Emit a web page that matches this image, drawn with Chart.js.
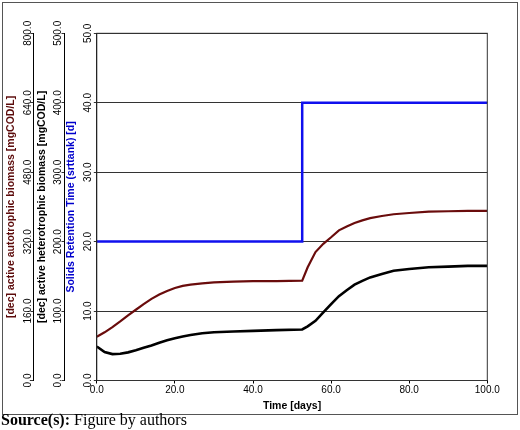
<!DOCTYPE html>
<html>
<head>
<meta charset="utf-8">
<script src="https://cdn.jsdelivr.net/npm/chart.js@4"></script>
<style>
    body { margin: 0; background: #fff; }
    #frame { position: absolute; left: 2px; top: 2px; width: 514px; height: 411px; border: 1px solid #555; }
    #wrap { position: absolute; left: 0; top: 0; width: 520px; height: 420px; }
    #source { position: absolute; left: 1px; top: 412px; font: 16px/16px "Liberation Serif", serif; color: #000; white-space: nowrap; }
</style>
</head>
<body>
<div id="frame"></div>
<div id="wrap"><canvas id="chart"></canvas></div>
<div id="source"><b>Source(s):</b> Figure by authors</div>
<script>
// time axis [days]
let days = [0, 2, 4, 6, 8, 10, 12, 14, 16, 18, 20, 22, 24, 27, 30, 35, 40, 46, 52.6,
    54, 56, 58, 60, 62, 64, 66, 68, 70, 73, 76, 80, 85, 90, 95, 100];

// [dec] active autotrophic biomass [mgCOD/L]
let autotrophic = [101, 111, 123, 136, 150, 163, 176, 188, 198, 206, 213, 218, 221, 224, 226, 228, 229, 229, 230,
    261, 296, 315, 330, 346, 355, 363, 369, 374, 379, 383, 386, 389, 390, 391, 391];

// [dec] active heterotrophic biomass [mgCOD/L]
let heterotrophic = [49, 41, 38, 38.5, 40.5, 43.5, 47, 50.5, 54.5, 58, 61, 63.5, 65.5, 68, 69.5, 70.5, 71.5, 72.5, 73.5,
    78, 86, 98, 110, 121.5, 130, 138, 143.5, 148.5, 153.5, 158, 160.5, 163, 164, 165, 165];

// Solids Retention Time (srttank) [d], step change
let srtDays = [0, 52.6, 100];
let srtValues = [20, 40, 40];

let xTicks = [0, 20, 40, 60, 80, 100];

const tickFont = { family: "'Liberation Sans', Arial, sans-serif", size: 10 };
const titleFont = { family: "'Liberation Sans', Arial, sans-serif", size: 10.5, weight: 'bold' };

function pts(xs, ys) {
    return xs.map((x, i) => ({ x: x, y: ys[i] }));
}

// box round the plot area (top and right sides)
const plotFrame = {
    id: 'plotFrame',
    afterDraw(chart) {
        let a = chart.chartArea;
        let ctx = chart.ctx;
        ctx.save();
        ctx.strokeStyle = '#333';
        ctx.lineWidth = 1;
        ctx.strokeRect(a.left, a.top, a.right - a.left, a.bottom - a.top);
        ctx.restore();
    }
};

function yAxis(max, step, title, color, weight, width, labelPad, titlePad, grid) {
    return {
        type: 'linear',
        position: 'left',
        weight: weight,
        min: 0,
        max: max,
        afterFit: (s) => { s.width = width; },
        afterBuildTicks: (s) => {
            let t = [];
            for (let v = 0; v <= max + 1e-9; v += step) t.push({ value: v });
            s.ticks = t;
        },
        ticks: {
            font: tickFont,
            color: '#000',
            minRotation: 90,
            maxRotation: 90,
            crossAlign: 'center',
            padding: labelPad,
            callback: (v) => Number(v).toFixed(1)
        },
        grid: {
            display: true,
            drawOnChartArea: grid,
            drawTicks: true,
            tickLength: 3,
            color: '#333',
            lineWidth: 1
        },
        border: { display: true, color: '#000', width: 1 },
        title: {
            display: true,
            text: title,
            color: color,
            font: titleFont,
            padding: { top: titlePad, bottom: 0 }
        }
    };
}

new Chart(document.getElementById('chart'), {
    type: 'line',
    data: {
        datasets: [
            {
                label: 'Solids Retention Time (srttank) [d]',
                data: pts(srtDays, srtValues),
                yAxisID: 'ySrt',
                borderColor: '#1010ee',
                borderWidth: 2.5,
                stepped: 'before',
                pointRadius: 0,
                fill: false
            },
            {
                label: '[dec] active autotrophic biomass [mgCOD/L]',
                data: pts(days, autotrophic),
                yAxisID: 'yAuto',
                borderColor: '#6a0c0c',
                borderWidth: 2.2,
                tension: 0,
                pointRadius: 0,
                fill: false
            },
            {
                label: '[dec] active heterotrophic biomass [mgCOD/L]',
                data: pts(days, heterotrophic),
                yAxisID: 'yHet',
                borderColor: '#000',
                borderWidth: 2.6,
                tension: 0,
                pointRadius: 0,
                fill: false
            }
        ]
    },
    options: {
        responsive: true,
        maintainAspectRatio: false,
        animation: false,
        layout: { padding: { left: 4, top: 33.3, right: 32.7, bottom: 3.5 } },
        plugins: {
            legend: { display: false },
            tooltip: { enabled: false }
        },
        scales: {
            x: {
                type: 'linear',
                min: 0,
                max: 100,
                afterFit: (s) => { s.height = 36; },
                afterBuildTicks: (s) => { s.ticks = xTicks.map((v) => ({ value: v })); },
                ticks: {
                    font: tickFont,
                    color: '#000',
                    maxRotation: 0,
                    padding: 0.5,
                    callback: (v) => Number(v).toFixed(1)
                },
                grid: { drawOnChartArea: false, tickLength: 3, color: '#000' },
                border: { display: true, color: '#000' },
                title: {
                    display: true,
                    text: 'Time [days]',
                    color: '#000',
                    font: titleFont,
                    padding: { top: 0, bottom: 4.4 }
                }
            },
            yAuto: yAxis(800, 160, '[dec] active autotrophic biomass [mgCOD/L]', '#5c0b0b', 3, 29.5, -10, 0.7, false),
            yHet: yAxis(500, 100, '[dec] active heterotrophic biomass [mgCOD/L]', '#000', 2, 31, -9.2, 2.7, false),
            ySrt: yAxis(50, 10, 'Solids Retention Time (srttank) [d]', '#0000cc', 1, 32.3, -4.3, 0.7, true)
        }
    },
    plugins: [plotFrame]
});
</script>
</body>
</html>
